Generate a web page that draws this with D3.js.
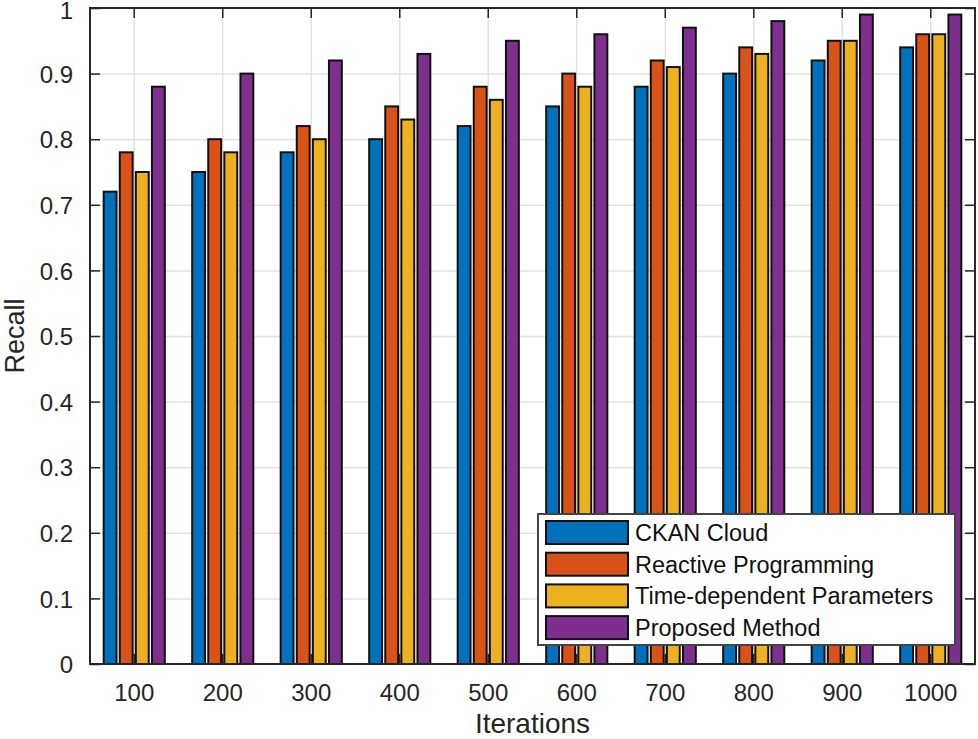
<!DOCTYPE html>
<html>
<head>
<meta charset="utf-8">
<script src="https://cdn.jsdelivr.net/npm/d3@7"></script>
<style>
body { margin: 0; background: #fff; }
text { font-family: "Liberation Sans", Arial, sans-serif; }
</style>
</head>
<body>
<script>
// data
var iterations = ["100", "200", "300", "400", "500", "600", "700", "800", "900", "1000"];
var seriesNames = ["CKAN Cloud", "Reactive Programming", "Time-dependent Parameters", "Proposed Method"];
var ckanCloud = [0.72, 0.75, 0.78, 0.80, 0.82, 0.85, 0.88, 0.90, 0.92, 0.94];
var reactiveProg = [0.78, 0.80, 0.82, 0.85, 0.88, 0.90, 0.92, 0.94, 0.95, 0.96];
var timeDependent = [0.75, 0.78, 0.80, 0.83, 0.86, 0.88, 0.91, 0.93, 0.95, 0.96];
var proposed = [0.88, 0.90, 0.92, 0.93, 0.95, 0.96, 0.97, 0.98, 0.99, 0.99];
var yTicks = [0, 0.1, 0.2, 0.3, 0.4, 0.5, 0.6, 0.7, 0.8, 0.9, 1];
var colors = ["#0072BD", "#D95319", "#EDB120", "#7E2F8E"];

var allSeries = [ckanCloud, reactiveProg, timeDependent, proposed];

var W = 978, H = 739;
// plot box (window.top is reserved, so p-prefixed names)
var pLeft = 90, pRight = 975, pTop = 8, pBottom = 664;
var axisColor = "#262626";

var svg = d3.select("body")
	.append("svg")
	.attr("width", W)
	.attr("height", H);

var x0 = d3.scaleBand()
	.domain(iterations)
	.range([pLeft, pRight])
	.paddingInner(0)
	.paddingOuter(0);

// matlab grouped bar: group takes ~0.727 of the slot
var groupW = x0.bandwidth() * 4 / 5.5;
var x1 = d3.scaleBand()
	.domain(d3.range(seriesNames.length))
	.range([-groupW / 2, groupW / 2])
	.paddingInner(0.2)
	.paddingOuter(0.1);

var y = d3.scaleLinear()
	.domain([0, 1])
	.range([pBottom, pTop]);

// grid
svg.append("g")
	.attr("transform", "translate(" + pLeft + ",0)")
	.call(d3.axisLeft(y).tickValues(yTicks).tickSize(-(pRight - pLeft)).tickFormat(""))
	.call(function(g){
		g.select(".domain").remove();
		g.selectAll("line").attr("stroke", "#e3e3e3").attr("stroke-width", 1.5);
	});

svg.append("g")
	.attr("transform", "translate(0," + pBottom + ")")
	.call(d3.axisBottom(x0).tickSize(-(pBottom - pTop)).tickFormat(""))
	.call(function(g){
		g.select(".domain").remove();
		g.selectAll("line").attr("stroke", "#e3e3e3").attr("stroke-width", 1.5);
	});

// bars
var rows = iterations.map(function(it, i){
	return { it: it, vals: allSeries.map(function(s){ return s[i]; }) };
});

var groups = svg.selectAll("g.group")
	.data(rows)
	.enter()
	.append("g")
	.attr("class", "group")
	.attr("transform", function(d){ return "translate(" + (x0(d.it) + x0.bandwidth() / 2) + ",0)"; });

groups.selectAll("rect")
	.data(function(d){ return d.vals; })
	.enter()
	.append("rect")
	.attr("x", function(d, j){ return x1(j); })
	.attr("y", function(d){ return y(d); })
	.attr("width", x1.bandwidth())
	.attr("height", function(d){ return y(0) - y(d); })
	.attr("fill", function(d, j){ return colors[j]; })
	.attr("stroke", "#111")
	.attr("stroke-width", 2);

// axes (ticks pointing inward)
var yAxis = svg.append("g")
	.attr("transform", "translate(" + pLeft + ",0)")
	.call(d3.axisLeft(y).tickValues(yTicks).tickSize(-10).tickSizeOuter(0).tickPadding(17)
		.tickFormat(function(d){ return d === 0 || d === 1 ? String(d) : d3.format(".1f")(d); }));

var yAxisR = svg.append("g")
	.attr("transform", "translate(" + pRight + ",0)")
	.call(d3.axisRight(y).tickValues(yTicks).tickSize(-10).tickSizeOuter(0).tickFormat(""));

var xAxis = svg.append("g")
	.attr("transform", "translate(0," + pBottom + ")")
	.call(d3.axisBottom(x0).tickSize(-10).tickSizeOuter(0).tickPadding(20));

var xAxisT = svg.append("g")
	.attr("transform", "translate(0," + pTop + ")")
	.call(d3.axisTop(x0).tickSize(-10).tickSizeOuter(0).tickFormat(""));

[yAxis, yAxisR, xAxis, xAxisT].forEach(function(g){
	g.select(".domain").remove();
	g.selectAll("line").attr("stroke", axisColor).attr("stroke-width", 1.5);
	g.selectAll("text")
		.attr("fill", axisColor)
		.style("font-size", "24px")
		.style("font-family", "'Liberation Sans', Arial, sans-serif");
});
yAxis.selectAll("text").attr("dy", function(d){ return d === 1 ? "0.45em" : "0.36em"; });

// box
svg.append("rect")
	.attr("x", pLeft)
	.attr("y", pTop)
	.attr("width", pRight - pLeft)
	.attr("height", pBottom - pTop)
	.attr("fill", "none")
	.attr("stroke", axisColor)
	.attr("stroke-width", 2);

// axis labels
svg.append("text")
	.attr("x", (pLeft + pRight) / 2)
	.attr("y", 733)
	.attr("text-anchor", "middle")
	.attr("fill", axisColor)
	.style("font-size", "28px")
	.text("Iterations");

svg.append("text")
	.attr("transform", "translate(24," + ((pTop + pBottom) / 2) + ") rotate(-90)")
	.attr("text-anchor", "middle")
	.attr("fill", axisColor)
	.style("font-size", "27px")
	.text("Recall");

// legend
var lg = svg.append("g").attr("transform", "translate(538,514)");
lg.append("rect")
	.attr("width", 417)
	.attr("height", 131)
	.attr("fill", "#fff")
	.attr("stroke", "#444")
	.attr("stroke-width", 2);

var items = lg.selectAll("g.item")
	.data(seriesNames)
	.enter()
	.append("g")
	.attr("class", "item")
	.attr("transform", function(d, i){ return "translate(8," + (7 + i * 31.7) + ")"; });

items.append("rect")
	.attr("width", 82)
	.attr("height", 23)
	.attr("fill", function(d, i){ return colors[i]; })
	.attr("stroke", "#111")
	.attr("stroke-width", 2);

items.append("text")
	.attr("x", 89)
	.attr("y", 11.5)
	.attr("dy", "0.36em")
	.attr("fill", "#111")
	.style("font-size", "23.5px")
	.text(function(d){ return d; });
</script>
</body>
</html>
